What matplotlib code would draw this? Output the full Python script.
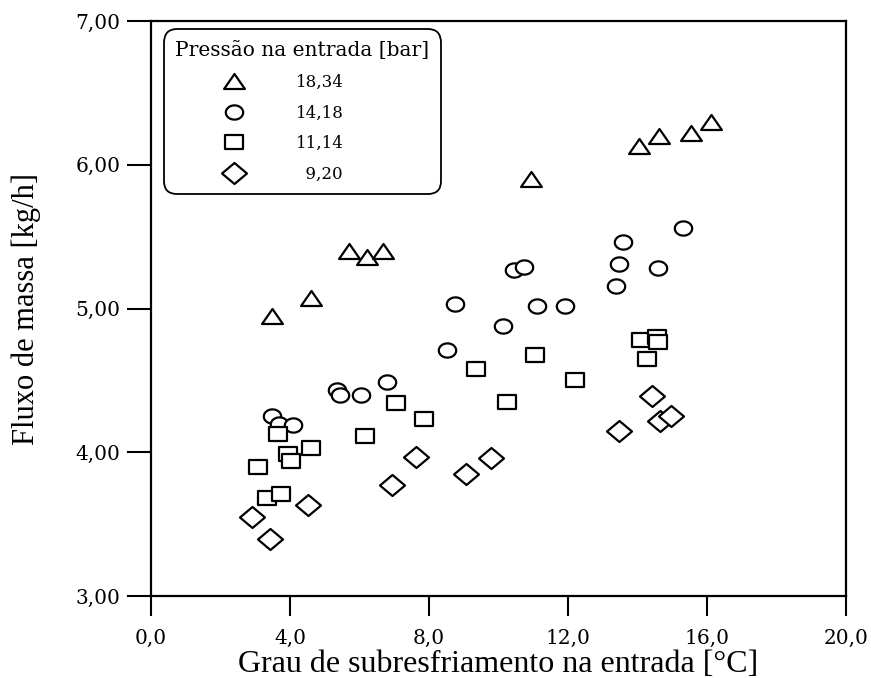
import numpy as np
import matplotlib
matplotlib.use('Agg')
import matplotlib.pyplot as plt
from matplotlib.path import Path

plt.rcParams['font.family'] = ['Liberation Serif', 'DejaVu Serif']

# dados: grau de subresfriamento [C] x fluxo de massa [kg/h]
p1834_x = [3.49, 4.61, 5.71, 6.22, 6.68, 10.94, 14.04, 14.61, 15.54, 16.11]
p1834_y = [4.95, 5.07, 5.40, 5.36, 5.40, 5.90, 6.13, 6.20, 6.22, 6.30]

p1418_x = [3.49, 3.68, 4.08, 5.35, 5.45, 6.03, 6.80, 8.53, 8.76, 10.13,
           10.45, 10.72, 11.10, 11.92, 13.39, 13.47, 13.58, 14.60, 15.32]
p1418_y = [4.25, 4.20, 4.19, 4.43, 4.40, 4.40, 4.49, 4.71, 5.03, 4.88,
           5.27, 5.29, 5.02, 5.02, 5.16, 5.31, 5.46, 5.28, 5.56]

p1114_x = [3.34, 3.74, 3.07, 3.95, 4.03, 3.65, 4.60, 6.15, 7.05, 7.85,
           9.35, 10.24, 11.06, 12.21, 14.09, 14.55, 14.58, 14.27]
p1114_y = [3.68, 3.71, 3.90, 3.99, 3.94, 4.13, 4.03, 4.11, 4.34, 4.23,
           4.58, 4.35, 4.68, 4.50, 4.78, 4.80, 4.77, 4.65]

p920_x = [3.42, 2.91, 4.51, 6.92, 7.62, 9.06, 9.78, 13.47, 14.41, 14.65, 14.96]
p920_y = [3.40, 3.55, 3.63, 3.77, 3.97, 3.85, 3.96, 4.15, 4.39, 4.22, 4.25]

labels = ['18,34', '14,18', '11,14', '  9,20']
x_ticks = [0, 4, 8, 12, 16, 20]
y_ticks = [3, 4, 5, 6, 7]


def stretched(verts):
    # marcadores um pouco mais largos que altos, como no original
    verts = list(verts) + [verts[0]]
    codes = [Path.MOVETO] + [Path.LINETO] * (len(verts) - 2) + [Path.CLOSEPOLY]
    return Path(verts, codes)


t = np.linspace(0, 2 * np.pi, 60, endpoint=False)
tri = stretched([(-1, -0.72), (1, -0.72), (0, 0.72)])
ell = stretched(list(zip(np.cos(t), 0.82 * np.sin(t))))
sq = stretched([(-1, -0.83), (1, -0.83), (1, 0.83), (-1, 0.83)])
dia = stretched([(-1, 0), (0, -0.84), (1, 0), (0, 0.84)])

fig = plt.figure(figsize=(8.71, 6.78), dpi=100)
ax = fig.add_axes([0.1734, 0.1209, 0.798, 0.848])

series = [(p1834_x, p1834_y, tri, 15),
          (p1418_x, p1418_y, ell, 12.5),
          (p1114_x, p1114_y, sq, 13),
          (p920_x, p920_y, dia, 18)]
for (xs, ys, m, ms), lab in zip(series, labels):
    ax.plot(xs, ys, linestyle='none', marker=m, markersize=ms,
            markerfacecolor='white', markeredgecolor='black',
            markeredgewidth=1.6, label=lab)

ax.set_xlim(0, 20)
ax.set_ylim(3, 7)
ax.set_xticks(x_ticks)
ax.set_xticklabels([f'{v:.1f}'.replace('.', ',') for v in x_ticks])
ax.set_yticks(y_ticks)
ax.set_yticklabels([f'{v:.2f}'.replace('.', ',') for v in y_ticks])
ax.tick_params(direction='out', width=1.5, pad=5)
ax.tick_params(axis='x', length=14.5, pad=9)
ax.tick_params(axis='y', length=17)
for lbl in ax.get_xticklabels() + ax.get_yticklabels():
    lbl.set_fontfamily('DejaVu Serif')
    lbl.set_fontsize(14.5)
for s in ax.spines.values():
    s.set_linewidth(1.6)

ax.set_xlabel('Grau de subresfriamento na entrada [°C]', fontsize=23, labelpad=2)
ax.set_ylabel('Fluxo de massa [kg/h]', fontsize=22, labelpad=25)

leg = ax.legend(title='Pressão na entrada [bar]', loc='upper left',
                bbox_to_anchor=(0.028, 0.974), fancybox=True, framealpha=1,
                edgecolor='black', prop={'family': 'DejaVu Serif', 'size': 12},
                handletextpad=0.2, labelspacing=0.82, borderpad=0.3,
                handlelength=7.0, borderaxespad=0, alignment='left')
leg.get_title().set_fontfamily('DejaVu Serif')
leg.get_title().set_fontsize(14.5)
leg.get_frame().set_linewidth(1.3)
leg.get_frame().set_boxstyle('round', pad=0.4, rounding_size=0.8)

fig.savefig('out.png', dpi=100)
